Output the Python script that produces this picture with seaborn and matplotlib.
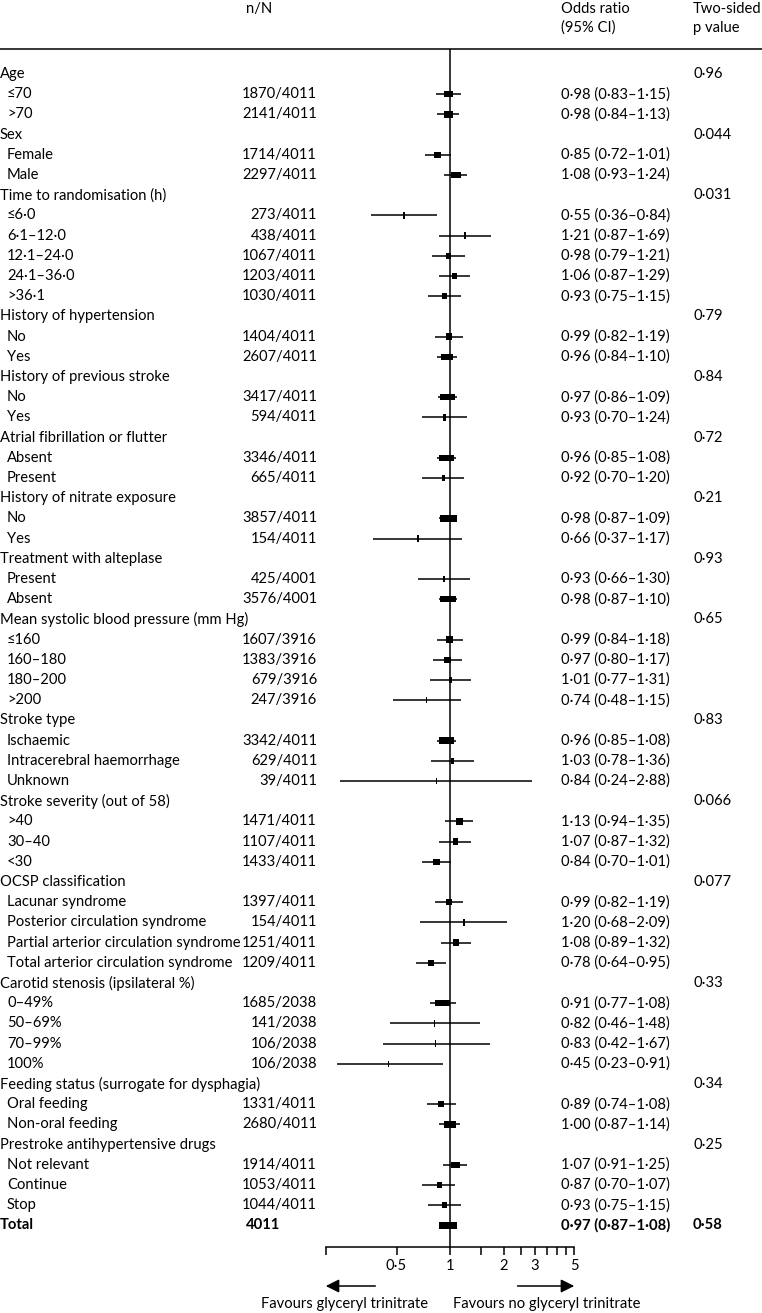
import numpy as np
import pandas as pd
import matplotlib
matplotlib.use("Agg")
import matplotlib.pyplot as plt
import matplotlib.transforms as mtransforms
from matplotlib.lines import Line2D
import seaborn as sns

sns.set_theme(style="white")
plt.rcParams['font.family'] = ['Lato', 'DejaVu Sans']
plt.rcParams['text.color'] = 'black'
plt.rcParams['xtick.color'] = 'black'
plt.rcParams['xtick.labelcolor'] = 'black'

# ---- data ----
groups = ["Age", "Sex", "Time to randomisation (h)", "History of hypertension",
          "History of previous stroke", "Atrial fibrillation or flutter",
          "History of nitrate exposure", "Treatment with alteplase",
          "Mean systolic blood pressure (mm Hg)", "Stroke type",
          "Stroke severity (out of 58)", "OCSP classification",
          "Carotid stenosis (ipsilateral %)", "Feeding status (surrogate for dysphagia)",
          "Prestroke antihypertensive drugs"]
group_p = [0.96, 0.044, 0.031, 0.79, 0.84, 0.72, 0.21, 0.93, 0.65, 0.83,
           0.066, 0.077, 0.33, 0.34, 0.25]

sub_labels = [
    ["≤70", ">70"],
    ["Female", "Male"],
    ["≤6·0", "6·1–12·0", "12·1–24·0", "24·1–36·0", ">36·1"],
    ["No", "Yes"],
    ["No", "Yes"],
    ["Absent", "Present"],
    ["No", "Yes"],
    ["Present", "Absent"],
    ["≤160", "160–180", "180–200", ">200"],
    ["Ischaemic", "Intracerebral haemorrhage", "Unknown"],
    [">40", "30–40", "<30"],
    ["Lacunar syndrome", "Posterior circulation syndrome",
     "Partial arterior circulation syndrome", "Total arterior circulation syndrome"],
    ["0–49%", "50–69%", "70–99%", "100%"],
    ["Oral feeding", "Non-oral feeding"],
    ["Not relevant", "Continue", "Stop"],
]
sub_n = [
    [1870, 2141], [1714, 2297], [273, 438, 1067, 1203, 1030], [1404, 2607],
    [3417, 594], [3346, 665], [3857, 154], [425, 3576], [1607, 1383, 679, 247],
    [3342, 629, 39], [1471, 1107, 1433], [1397, 154, 1251, 1209],
    [1685, 141, 106, 106], [1331, 2680], [1914, 1053, 1044],
]
group_N = [4011, 4011, 4011, 4011, 4011, 4011, 4011, 4001, 3916, 4011,
           4011, 4011, 2038, 4011, 4011]
sub_or = [
    [0.98, 0.98], [0.85, 1.08], [0.55, 1.21, 0.98, 1.06, 0.93], [0.99, 0.96],
    [0.97, 0.93], [0.96, 0.92], [0.98, 0.66], [0.93, 0.98], [0.99, 0.97, 1.01, 0.74],
    [0.96, 1.03, 0.84], [1.13, 1.07, 0.84], [0.99, 1.20, 1.08, 0.78],
    [0.91, 0.82, 0.83, 0.45], [0.89, 1.00], [1.07, 0.87, 0.93],
]
sub_lo = [
    [0.83, 0.84], [0.72, 0.93], [0.36, 0.87, 0.79, 0.87, 0.75], [0.82, 0.84],
    [0.86, 0.70], [0.85, 0.70], [0.87, 0.37], [0.66, 0.87], [0.84, 0.80, 0.77, 0.48],
    [0.85, 0.78, 0.24], [0.94, 0.87, 0.70], [0.82, 0.68, 0.89, 0.64],
    [0.77, 0.46, 0.42, 0.23], [0.74, 0.87], [0.91, 0.70, 0.75],
]
sub_hi = [
    [1.15, 1.13], [1.01, 1.24], [0.84, 1.69, 1.21, 1.29, 1.15], [1.19, 1.10],
    [1.09, 1.24], [1.08, 1.20], [1.09, 1.17], [1.30, 1.10], [1.18, 1.17, 1.31, 1.15],
    [1.08, 1.36, 2.88], [1.35, 1.32, 1.01], [1.19, 2.09, 1.32, 0.95],
    [1.08, 1.48, 1.67, 0.91], [1.08, 1.14], [1.25, 1.07, 1.15],
]
total_n = 4011
total_or, total_lo, total_hi = 0.97, 0.87, 1.08
total_p = 0.58

tick_vals = [0.2, 0.5, 1, 1.5, 2, 2.5, 3, 3.5, 4, 4.5, 5]
tick_text = ["", "0·5", "1", "", "2", "", "3", "", "", "", "5"]

# ---- build a row table ----
rows = []
for g, p, labs, ns, N, o, lo, hi in zip(groups, group_p, sub_labels, sub_n,
                                        group_N, sub_or, sub_lo, sub_hi):
    rows.append(dict(kind="group", label=g, p=p))
    for lab, n, oo, ll, hh in zip(labs, ns, o, lo, hi):
        rows.append(dict(kind="sub", label=lab, n=n, N=N, est=oo, lo=ll, hi=hh))
rows.append(dict(kind="total", label="Total", n=total_n, N=total_n,
                 est=total_or, lo=total_lo, hi=total_hi, p=total_p))
df = pd.DataFrame(rows)
df["y"] = np.arange(len(df))


def dot(x, nd=2):
    return f"{x:.{nd}f}".replace(".", "·")


def pfmt(p):
    return str(p).replace(".", "·")


# ---- figure geometry (pixels) ----
W, H = 762, 1313
FS = 10.6
x_one = 450.0          # pixel of OR = 1
px_per_dec = 53.5 / np.log10(2)
y_top, y_axis = 49.0, 1247.0
row0, dy = 74.0, 20.2

fig = plt.figure(figsize=(W / 100, H / 100), dpi=100)
ax_left = x_one - px_per_dec
ax = fig.add_axes([ax_left / W, 1 - y_axis / H, 2 * px_per_dec / W, (y_axis - y_top) / H])
ax.set_xscale("log")
ax.set_xlim(0.1, 10)
ax.set_ylim((y_axis - row0) / dy, (y_top - row0) / dy)
ax.patch.set_alpha(0)
for s in ["top", "left", "right"]:
    ax.spines[s].set_visible(False)
ax.spines["bottom"].set_bounds(tick_vals[0], tick_vals[-1])
ax.spines["bottom"].set_color("black")
ax.spines["bottom"].set_linewidth(1.1)
ax.set_xticks(tick_vals)
ax.set_xticklabels(tick_text, fontsize=FS)
ax.xaxis.set_minor_locator(matplotlib.ticker.NullLocator())
ax.tick_params(axis="x", direction="out", length=6, width=1.1, color="black",
               labelcolor="black", pad=3, bottom=True)
ax.set_yticks([])
ax.grid(False)

# line of no effect
ax.axvline(1, color="black", lw=1.1)

# confidence intervals and boxes
est = df.dropna(subset=["est"])
ax.hlines(est["y"], est["lo"], est["hi"], color="black", lw=1.1)
box_px = np.maximum(18.0 * est["n"] / est["N"], 1.4)
half = box_px / 2 / px_per_dec
left = est["est"] * 10 ** (-half)
right = est["est"] * 10 ** half
ax.barh(est["y"], right - left, left=left, height=6.5 / dy, color="black", linewidth=0)

# ---- text columns ----
tr = mtransforms.blended_transform_factory(fig.transFigure, ax.transData)
for _, r in df.iterrows():
    bold = "bold" if r["kind"] == "total" else "normal"
    lx = 7 if r["kind"] == "sub" else 0
    ax.text(lx / W, r["y"], r["label"], transform=tr, ha="left", va="center",
            fontsize=FS, fontweight=bold)
    if r["kind"] == "sub":
        ax.text(317 / W, r["y"], f"{int(r['n'])}/{int(r['N'])}", transform=tr,
                ha="right", va="center", fontsize=FS)
    if r["kind"] == "total":
        ax.text(246 / W, r["y"], f"{int(r['n'])}", transform=tr, ha="left",
                va="center", fontsize=FS, fontweight=bold)
    if r["kind"] in ("sub", "total"):
        ax.text(561 / W, r["y"], f"{dot(r['est'])} ({dot(r['lo'])}–{dot(r['hi'])})",
                transform=tr, ha="left", va="center", fontsize=FS, fontweight=bold)
    if r["kind"] in ("group", "total"):
        ax.text(693 / W, r["y"], pfmt(r["p"]), transform=tr, ha="left", va="center",
                fontsize=FS, fontweight=bold)

# header
fig.text(246 / W, 1 - 9 / H, "n/N", ha="left", va="center", fontsize=FS)
fig.text(561 / W, 1 - 9 / H, "Odds ratio", ha="left", va="center", fontsize=FS)
fig.text(561 / W, 1 - 28 / H, "(95% CI)", ha="left", va="center", fontsize=FS)
fig.text(693 / W, 1 - 9 / H, "Two-sided", ha="left", va="center", fontsize=FS)
fig.text(693 / W, 1 - 28 / H, "p value", ha="left", va="center", fontsize=FS)
fig.add_artist(Line2D([0, 1], [1 - y_top / H] * 2, transform=fig.transFigure,
                      color="black", lw=1.1))

# arrows and favours labels
arr_y = -(1286 - y_axis) / (y_axis - y_top)
xt = ax.get_xaxis_transform()
for tip, tail in [(0.2, 0.38), (5, 2.4)]:
    ax.annotate("", xy=(tip, arr_y), xytext=(tail, arr_y), xycoords=xt, textcoords=xt,
                annotation_clip=False,
                arrowprops=dict(arrowstyle="-|>", color="black", lw=1.1,
                                mutation_scale=20, shrinkA=0, shrinkB=0))
fig.text(428 / W, 1 - 1304 / H, "Favours glyceryl trinitrate", ha="right",
         va="center", fontsize=FS)
fig.text(453 / W, 1 - 1304 / H, "Favours no glyceryl trinitrate", ha="left",
         va="center", fontsize=FS)

fig.savefig("out.png", dpi=100, facecolor="white")
